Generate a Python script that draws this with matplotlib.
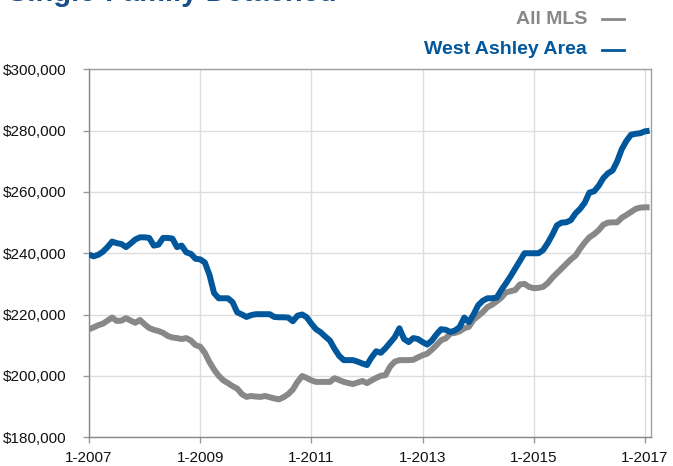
import numpy as np
import matplotlib
matplotlib.use("Agg")
import matplotlib.pyplot as plt
from matplotlib.ticker import FuncFormatter

# monthly median price (thousands), Jan 2007 .. Feb 2017
west_ashley = [
    239.6, 239.0, 239.5, 240.5, 242.0, 243.8, 243.3, 243.0, 242.0, 243.2,
    244.5, 245.2, 245.2, 245.0, 242.5, 242.8, 245.0, 245.0, 244.8, 242.0,
    242.5, 240.3, 239.8, 238.2, 238.0, 237.0, 233.0, 227.0, 225.3, 225.3,
    225.3, 224.0, 220.7, 220.0, 219.2, 219.8, 220.1, 220.1, 220.1, 220.1,
    219.2, 219.1, 219.1, 219.0, 217.8, 219.6, 220.0, 219.1, 217.0, 215.2,
    214.2, 212.8, 211.5, 208.8, 206.5, 205.1, 205.1, 205.1, 204.6, 204.0,
    203.5, 206.0, 208.0, 207.5, 209.0, 210.8, 212.6, 215.5, 212.0, 211.0,
    212.3, 212.0, 211.0, 210.2, 211.5, 213.5, 215.2, 215.0, 214.3, 214.8,
    215.9, 219.0, 217.5, 220.0, 223.0, 224.5, 225.3, 225.3, 225.5, 228.0,
    230.2, 232.5, 235.0, 237.5, 240.0, 240.0, 240.0, 240.0, 241.0, 243.3,
    246.0, 249.1, 250.0, 250.1, 250.8, 253.0, 254.5, 256.5, 259.8, 260.2,
    262.0, 264.5, 266.1, 267.0, 270.0, 274.0, 276.7, 278.7, 279.0, 279.2,
    279.8, 280.0,
]
all_mls = [
    215.2, 215.8, 216.5, 217.0, 218.0, 219.0, 217.9, 218.0, 218.8, 218.0,
    217.3, 218.2, 216.8, 215.6, 215.0, 214.6, 214.0, 213.0, 212.5, 212.3,
    212.0, 212.3, 211.5, 210.0, 209.5, 207.5, 204.5, 202.0, 200.0, 198.5,
    197.6, 196.6, 195.8, 194.0, 193.1, 193.4, 193.2, 193.1, 193.4, 193.0,
    192.6, 192.3, 193.0, 194.0, 195.5, 198.0, 199.9, 199.3, 198.5, 198.0,
    198.0, 198.0, 198.0, 199.2, 198.6, 198.0, 197.6, 197.3, 197.8, 198.3,
    197.6, 198.5, 199.3, 200.0, 200.2, 203.0, 204.6, 205.1, 205.1, 205.1,
    205.2, 206.0, 206.7, 207.2, 208.5, 210.0, 211.6, 212.2, 213.8, 214.0,
    214.5, 215.5, 216.0, 218.3, 219.5, 220.8, 222.4, 223.2, 224.3, 225.5,
    227.2, 227.6, 228.0, 229.8, 230.0, 229.0, 228.6, 228.7, 229.0, 230.2,
    232.0, 233.5, 235.0, 236.5, 238.0, 239.2, 241.5, 243.5, 245.2, 246.2,
    247.5, 249.3, 250.0, 250.1, 250.1, 251.6, 252.5, 253.5, 254.5, 254.9,
    255.0, 255.0,
]
tick_labels = ["1-2007", "1-2009", "1-2011", "1-2013", "1-2015", "1-2017"]

BLUE = "#00579b"
GRAY = "#888888"

plt.rcParams["font.family"] = ["Liberation Sans", "DejaVu Sans"]

months = np.arange(len(west_ashley))
wa = np.array(west_ashley) * 1000
mls = np.array(all_mls) * 1000

fig = plt.figure(figsize=(6.73, 4.66), dpi=100)
ax = fig.add_axes([0.1322, 0.0622, 0.8344, 0.7887])

ax.plot(months, mls, color=GRAY, lw=4.3, solid_capstyle="butt", zorder=3)
ax.plot(months, wa, color=BLUE, lw=4.3, solid_capstyle="butt", zorder=4)

ax.set_xlim(0, 121.2)
ax.set_ylim(180000, 300000)
ax.set_xticks(np.arange(0, 121, 24))
ax.set_xticklabels(tick_labels)
ax.set_yticks(np.arange(180000, 300001, 20000))
ax.yaxis.set_major_formatter(FuncFormatter(lambda v, p: f"${v:,.0f}"))

ax.grid(True, color="#dddddd", lw=1, zorder=0)
for s in ax.spines.values():
    s.set_color("#a0a0a0")
    s.set_linewidth(1)
ax.spines["left"].set_color("#888888")
ax.spines["bottom"].set_color("#888888")
ax.tick_params(axis="both", colors="#999999", length=4, width=1,
               labelcolor="#111111", labelsize=11)
ax.tick_params(axis="y", pad=12)
ax.tick_params(axis="x", pad=6)

# title, mostly cut off by the top edge
fig.text(0.012, 1 - 1 / 466, "Single-Family Detached", color="#1a4e86",
         fontsize=21, fontweight="bold", va="baseline", ha="left")

# legend at top right
fig.text(587 / 673, 1 - 19 / 466, "All MLS", color=GRAY, fontsize=14,
         fontweight="bold", ha="right", va="center")
fig.text(587 / 673, 1 - 50 / 466, "West Ashley Area", color=BLUE, fontsize=14,
         fontweight="bold", ha="right", va="center")
fig.add_artist(plt.Line2D([602 / 673, 624 / 673], [1 - 19 / 466] * 2,
                          color=GRAY, lw=2, transform=fig.transFigure))
fig.add_artist(plt.Line2D([602 / 673, 624 / 673], [1 - 50 / 466] * 2,
                          color=BLUE, lw=2, transform=fig.transFigure))

fig.savefig("out.png", dpi=100)
